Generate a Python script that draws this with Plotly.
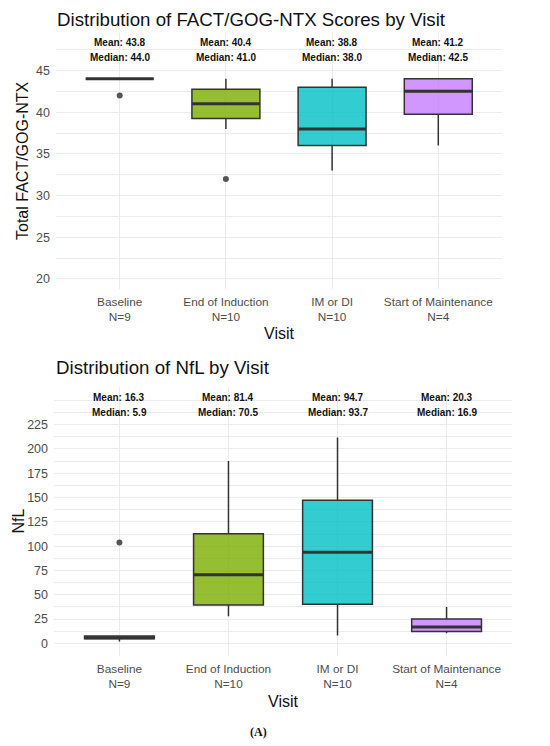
import plotly.graph_objects as go

visits = ["Baseline", "End of Induction", "IM or DI", "Start of Maintenance"]
n_counts = [9, 10, 10, 4]
fill_colors = [
    "rgba(248,118,109,0.8)",
    "rgba(124,174,0,0.8)",
    "rgba(0,191,196,0.8)",
    "rgba(199,124,255,0.8)",
]

# FACT/GOG-NTX box statistics
fact_q1 = [44.0, 39.25, 36.0, 39.75]
fact_median = [44.0, 41.0, 38.0, 42.5]
fact_q3 = [44.0, 42.75, 43.0, 44.0]
fact_lower = [44.0, 38.0, 33.0, 36.0]
fact_upper = [44.0, 44.0, 44.0, 44.0]
fact_outliers = [[42.0], [32.0], [], []]
fact_mean = [43.8, 40.4, 38.8, 41.2]
fact_ticks = [20, 25, 30, 35, 40, 45]
fact_minor = [22.5, 27.5, 32.5, 37.5, 42.5, 47.5]

# NfL box statistics
nfl_q1 = [4.8, 39.5, 40.2, 12.3]
nfl_median = [5.9, 70.5, 93.7, 16.9]
nfl_q3 = [7.6, 112.8, 147.2, 25.0]
nfl_lower = [1.8, 27.8, 8.2, 10.5]
nfl_upper = [7.6, 187.5, 211.8, 37.4]
nfl_outliers = [[103.8], [], [], []]
nfl_mean = [16.3, 81.4, 94.7, 20.3]
nfl_ticks = [0, 25, 50, 75, 100, 125, 150, 175, 200, 225]
nfl_minor = [-12.5, 12.5, 37.5, 62.5, 87.5, 112.5, 137.5, 162.5, 187.5, 212.5, 237.5, 250]

FONT = "Liberation Sans, Arial, sans-serif"
BOX_W = 0.64
# page body has an 8px margin, so the figure sits at (8, 8)
OFF = 8
W, H = 550 - OFF, 746 - OFF


def px(x):
    return (x - OFF) / W


def py(y):
    return 1 - (y - OFF) / H


fig = go.Figure()
shapes = []
annotations = []


def add_panel(xa, ya, q1, med, q3, lo, hi, outl, means, label_y):
    for i in range(len(visits)):
        fig.add_trace(
            go.Box(
                x=[i],
                q1=[q1[i]],
                median=[med[i]],
                q3=[q3[i]],
                lowerfence=[lo[i]],
                upperfence=[hi[i]],
                width=BOX_W,
                whiskerwidth=0,
                fillcolor=fill_colors[i],
                line=dict(color="#333333", width=1.5),
                boxpoints=False,
                hoverinfo="skip",
                showlegend=False,
                xaxis=xa,
                yaxis=ya,
            )
        )
        # thicker median line, like ggplot
        shapes.append(
            dict(
                type="line",
                xref=xa,
                yref=ya,
                x0=i - BOX_W / 2,
                x1=i + BOX_W / 2,
                y0=med[i],
                y1=med[i],
                line=dict(color="#333333", width=3),
                layer="above",
            )
        )
        if outl[i]:
            fig.add_trace(
                go.Scatter(
                    x=[i] * len(outl[i]),
                    y=outl[i],
                    mode="markers",
                    marker=dict(color="#555555", size=6),
                    showlegend=False,
                    xaxis=xa,
                    yaxis=ya,
                )
            )
        annotations.append(
            dict(
                xref=xa, yref=ya, x=i, y=label_y[0],
                text=f"<b>Mean: {means[i]:.1f}</b>",
                showarrow=False, font=dict(family=FONT, size=10, color="#111111"),
            )
        )
        annotations.append(
            dict(
                xref=xa, yref=ya, x=i, y=label_y[1],
                text=f"<b>Median: {med[i]:.1f}</b>",
                showarrow=False, font=dict(family=FONT, size=10, color="#111111"),
            )
        )


add_panel("x", "y", fact_q1, fact_median, fact_q3, fact_lower, fact_upper,
          fact_outliers, fact_mean, (48.4, 46.6))
add_panel("x2", "y2", nfl_q1, nfl_median, nfl_q3, nfl_lower, nfl_upper,
          nfl_outliers, nfl_mean, (253.0, 237.5))

tick_text = [f"{v}<br>N={n}" for v, n in zip(visits, n_counts)]

xaxis_common = dict(
    range=[-0.6, 3.6],
    tickmode="array",
    tickvals=list(range(len(visits))),
    ticktext=tick_text,
    showgrid=True,
    gridcolor="#EBEBEB",
    gridwidth=1,
    zeroline=False,
    showline=False,
    ticks="",
    ticklabelstandoff=4,
    tickfont=dict(family=FONT, size=11.8, color="#4D4D4D"),
)
yaxis_common = dict(
    showgrid=True,
    gridcolor="#EBEBEB",
    gridwidth=1,
    zeroline=False,
    showline=False,
    ticks="",
    ticklabelstandoff=5,
    tickfont=dict(family=FONT, size=12.5, color="#4D4D4D"),
)

fig.update_layout(
    width=W,
    height=H,
    margin=dict(l=0, r=0, t=0, b=0),
    paper_bgcolor="white",
    plot_bgcolor="white",
    font=dict(family=FONT),
    xaxis=dict(domain=[px(56), px(502)], anchor="y", **xaxis_common),
    yaxis=dict(
        domain=[py(289.3), py(33)],
        anchor="x",
        range=[18.76, 49.5],
        tickvals=fact_ticks,
        minor=dict(tickvals=fact_minor, showgrid=True, gridcolor="#EBEBEB", gridwidth=0.8),
        **yaxis_common,
    ),
    xaxis2=dict(domain=[px(54), px(512)], anchor="y2", **xaxis_common),
    yaxis2=dict(
        domain=[py(656), py(387.3)],
        anchor="x2",
        range=[-13.0, 263.4],
        tickvals=nfl_ticks,
        minor=dict(tickvals=nfl_minor, showgrid=True, gridcolor="#EBEBEB", gridwidth=0.8),
        **yaxis_common,
    ),
)

title_font = dict(family=FONT, size=18.7, color="#111111")
axis_font = dict(family=FONT, size=16, color="#111111")
annotations += [
    dict(xref="paper", yref="paper", x=px(56), y=py(8), xanchor="left",
         yanchor="top", text="Distribution of FACT/GOG-NTX Scores by Visit",
         showarrow=False, font=title_font, borderpad=0),
    dict(xref="paper", yref="paper", x=px(54), y=py(367.7), xanchor="left",
         yanchor="middle", text="Distribution of NfL by Visit",
         showarrow=False, font=title_font),
    dict(xref="paper", yref="paper", x=px(23), y=py(161), textangle=-90,
         xanchor="center", yanchor="middle", text="Total FACT/GOG-NTX",
         showarrow=False, font=axis_font),
    dict(xref="paper", yref="paper", x=px(8), y=py(521), textangle=-90,
         xanchor="left", yanchor="middle", text="NfL",
         showarrow=False, font=axis_font, borderpad=0),
    dict(xref="paper", yref="paper", x=px(279), y=py(333), xanchor="center",
         yanchor="middle", text="Visit", showarrow=False, font=axis_font),
    dict(xref="paper", yref="paper", x=px(283), y=py(701), xanchor="center",
         yanchor="middle", text="Visit", showarrow=False, font=axis_font),
    dict(xref="paper", yref="paper", x=px(258), y=py(732), xanchor="center",
         yanchor="middle", text="<b>(A)</b>", showarrow=False,
         font=dict(family="Liberation Serif, Times New Roman, serif", size=12,
                   color="#111111")),
]

fig.update_layout(shapes=shapes, annotations=annotations)

fig.write_html("out.html")
